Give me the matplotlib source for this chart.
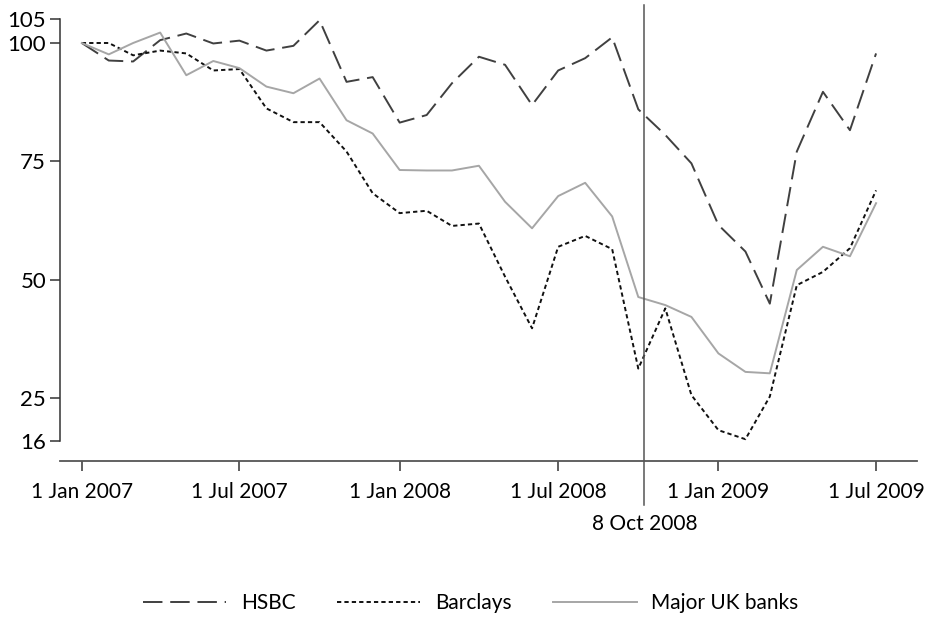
import matplotlib
matplotlib.use("Agg")
import matplotlib.pyplot as plt
import pandas as pd

# monthly share prices, indexed to 1 Jan 2007 = 100
months = pd.date_range("2007-01-01", "2009-07-01", freq="MS")

hsbc = [100.0, 96.3, 96.1, 100.6, 102.0, 99.9, 100.5, 98.4, 99.4, 104.8,
        91.8, 92.8, 83.2, 84.8, 91.5, 97.1, 95.4, 86.9, 94.2, 96.8,
        101.2, 86.0, 80.6, 74.6, 61.6, 56.0, 45.0, 77.1, 89.7, 81.6, 97.8]

barclays = [100.0, 100.0, 97.4, 98.4, 97.8, 94.2, 94.5, 86.2, 83.3, 83.3,
            77.1, 68.3, 64.1, 64.6, 61.4, 61.9, 50.7, 39.8, 57.0, 59.3,
            56.5, 31.3, 44.0, 25.7, 18.3, 16.4, 25.4, 48.9, 51.7, 56.7, 68.9]

uk_banks = [100.0, 97.6, 100.0, 102.2, 93.2, 96.2, 94.7, 90.8, 89.4, 92.5,
            83.7, 80.9, 73.2, 73.1, 73.1, 74.1, 66.5, 60.9, 67.7, 70.5,
            63.4, 46.4, 44.7, 42.2, 34.5, 30.6, 30.3, 52.1, 57.0, 55.0, 66.2]

event_date = pd.Timestamp("2008-10-08")
xtick_dates = pd.to_datetime(["2007-01-01", "2007-07-01", "2008-01-01",
                              "2008-07-01", "2009-01-01", "2009-07-01"])
xtick_labels = ["1 Jan 2007", "1 Jul 2007", "1 Jan 2008",
                "1 Jul 2008", "1 Jan 2009", "1 Jul 2009"]
ytick_vals = [16, 25, 50, 75, 100, 105]

plt.rcParams["font.family"] = ["Lato", "DejaVu Sans"]

fig = plt.figure(figsize=(9.32, 6.19), dpi=100)
ax = fig.add_axes([60 / 932, 1 - 461 / 619, (917 - 60) / 932, (461 - 19.3) / 619])

ax.plot(months, hsbc, color="#404040", lw=1.4, dashes=(10, 4), label="HSBC")
ax.plot(months, barclays, color="#111111", lw=1.4, dashes=(2.2, 1.6), label="Barclays")
ax.plot(months, uk_banks, color="#a6a6a6", lw=1.4, label="Major UK banks")

# 8 Oct 2008 marker line, runs past the plot area
ax.axvline(event_date, ymin=-0.1, ymax=1.032, color="#555555", lw=1.1, clip_on=False)
ax.text(event_date, -0.143, "8 Oct 2008", transform=ax.get_xaxis_transform(),
        ha="center", va="center", fontsize=15)

ax.set_xlim(pd.Timestamp("2006-12-07"), pd.Timestamp("2009-08-17"))
ax.set_ylim(11.8, 105)

ax.set_xticks(xtick_dates)
ax.set_xticklabels(xtick_labels)
ax.set_yticks(ytick_vals)
ax.tick_params(axis="both", labelsize=15, color="#333333", width=1.1, length=7)
ax.tick_params(axis="x", pad=8)
ax.tick_params(axis="y", labelsize=16, pad=3)

for side in ["top", "right"]:
    ax.spines[side].set_visible(False)
ax.spines["left"].set_bounds(16, 105)
ax.spines["left"].set_color("#333333")
ax.spines["bottom"].set_color("#555555")
ax.spines["left"].set_linewidth(1.1)
ax.spines["bottom"].set_linewidth(1.3)

fig.legend(loc="center", bbox_to_anchor=(0.505, 1 - 603 / 619), ncol=3, frameon=False,
           fontsize=15, handlelength=4.0, handletextpad=0.7, columnspacing=2.0)

fig.savefig("out.png", dpi=100)
